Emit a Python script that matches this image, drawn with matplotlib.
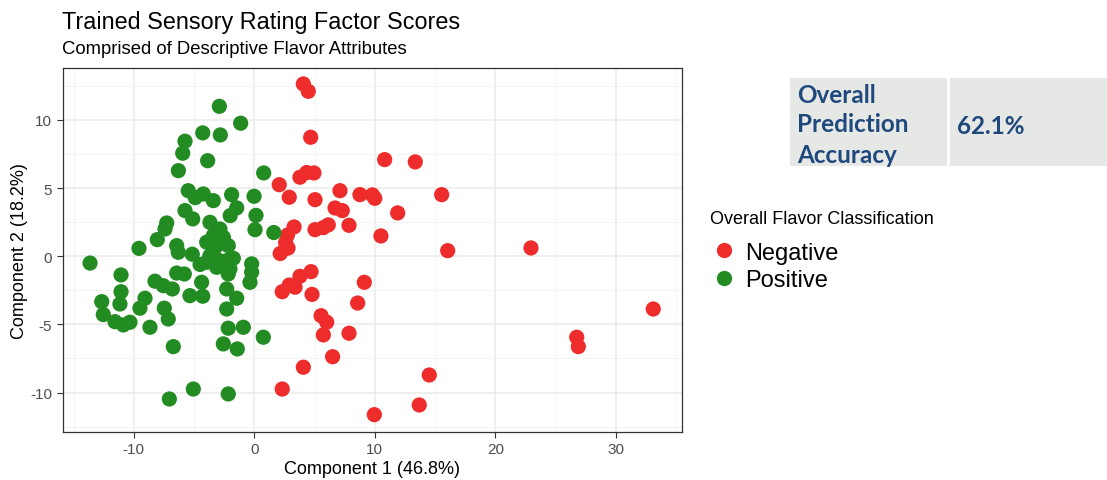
import matplotlib.pyplot as plt
from matplotlib.lines import Line2D

plt.rcParams["font.family"] = ["Liberation Sans", "DejaVu Sans"]
plt.rcParams["axes.unicode_minus"] = False

# factor scores
neg_x = [4.07, 4.48, 4.68, 10.82, 13.36, 15.55, 16.05, 22.96, 11.90, 10.51,
         9.80, 10.0, 8.77, 7.11, 7.86, 6.70, 7.30, 5.04, 4.95, 4.35,
         3.79, 2.07, 2.90, 5.04, 5.73, 6.14, 3.30, 2.75, 2.60, 2.80,
         2.15, 4.71, 3.79, 2.90, 3.38, 2.32, 4.79, 9.13, 8.58, 5.54,
         6.01, 5.73, 7.86, 6.50, 4.07, 2.32, 9.96, 13.69, 14.52, 26.76,
         26.89, 33.11]
neg_y = [12.64, 12.10, 8.73, 7.09, 6.92, 4.52, 0.41, 0.61, 3.18, 1.49,
         4.50, 4.25, 4.52, 4.81, 2.27, 3.54, 3.35, 4.15, 6.11, 6.14,
         5.80, 5.25, 4.33, 1.95, 2.10, 2.30, 2.15, 1.55, 1.00, 0.60,
         0.20, -1.13, -1.47, -2.11, -2.27, -2.60, -2.80, -1.91, -3.43, -4.36,
         -4.84, -5.77, -5.65, -7.37, -8.14, -9.74, -11.62, -10.91, -8.71, -5.94,
         -6.63, -3.87]

pos_x = [-2.90, -1.13, -4.28, -2.82, -5.75, -5.94, -3.87, -6.30, 0.78, -5.48,
         -4.23, -4.90, -3.40, -1.88, -0.02, -5.75, -5.11, -1.46, -2.00, 0.14,
         -7.27, -7.41, 0.06, 1.62, -8.05, -9.57, -6.44, -6.31, -5.15, -13.63,
         -11.06, -6.44, -5.81, -8.24, -7.55, -6.80, -4.37, -2.29, -1.46, -5.34,
         -4.28, -11.06, -11.15, -12.66, -12.53, -9.07, -9.49, -11.56, -10.87, -10.32,
         -7.47, -7.14, -8.66, -2.29, -2.16, -0.91, 0.75, -2.57, -1.41, -6.72,
         -5.06, -2.16, -7.05, -0.22, -0.22, -0.36, -4.50, -3.95, -3.12, -2.29,
         -1.74, -2.16, -3.68, -2.85, -3.40, -2.57, -3.95, -3.12, -2.16, -3.68,
         -3.12, -2.02]
pos_y = [11.00, 9.76, 9.05, 8.90, 8.44, 7.56, 7.01, 6.28, 6.11, 4.81,
         4.57, 4.30, 4.08, 4.52, 4.40, 3.35, 2.74, 3.55, 2.98, 3.00,
         2.44, 2.00, 1.95, 1.74, 1.22, 0.58, 0.78, 0.29, 0.15, -0.50,
         -1.37, -1.23, -1.30, -1.83, -2.16, -2.40, -1.91, -2.40, -3.08, -2.89,
         -2.93, -2.60, -3.50, -3.33, -4.28, -3.08, -3.81, -4.80, -5.04, -4.84,
         -3.81, -4.60, -5.21, -3.87, -5.28, -5.21, -5.94, -6.43, -6.80, -6.63,
         -9.74, -10.10, -10.47, -0.56, -1.17, -1.91, -0.60, -0.44, -0.20, -0.32,
         -0.15, -1.30, 2.49, 2.00, 1.51, 1.39, 1.03, 0.78, 0.78, 0.04,
         -0.81, -0.93]

classes = ["Negative", "Positive"]
class_colors = ["#EE2C2C", "#228B22"]
x_ticks = [-10, 0, 10, 20, 30]
y_ticks = [-10, -5, 0, 5, 10]
accuracy = "62.1%"

W, H = 1107, 481
fig = plt.figure(figsize=(W / 100, H / 100), dpi=100)
ax = fig.add_axes([62.7 / W, 1 - 432.7 / H, (681.7 - 62.7) / W, (432.7 - 69) / H])

ax.scatter(neg_x, neg_y, s=120, color=class_colors[0], edgecolors="none", zorder=3)
ax.scatter(pos_x, pos_y, s=120, color=class_colors[1], edgecolors="none", zorder=3)

ax.set_xlim(-15.9, 35.47)
ax.set_ylim(-12.87, 13.81)
ax.set_xticks(x_ticks)
ax.set_yticks(y_ticks)
ax.set_xticks([-15, -5, 5, 15, 25, 35], minor=True)
ax.set_yticks([-12.5, -7.5, -2.5, 2.5, 7.5, 12.5], minor=True)
ax.grid(True, which="major", color="#EBEBEB", lw=1.1, zorder=0)
ax.grid(True, which="minor", color="#F2F2F2", lw=0.6, zorder=0)
ax.tick_params(which="minor", length=0)
ax.tick_params(which="major", length=4, width=0.8, color="#333333",
               labelsize=11, labelcolor="#4D4D4D")
for sp in ax.spines.values():
    sp.set_color("#333333")
    sp.set_linewidth(0.9)
ax.set_axisbelow(True)

ax.set_xlabel("Component 1 (46.8%)", fontsize=13, labelpad=3)
ax.set_ylabel("Component 2 (18.2%)", fontsize=13, labelpad=2)

fig.text(62 / W, 1 - 22 / H, "Trained Sensory Rating Factor Scores", fontsize=16.8,
         ha="left", va="center")
fig.text(62 / W, 1 - 50 / H, "Comprised of Descriptive Flavor Attributes", fontsize=13.3,
         ha="left", va="center")

# legend
fig.text(710 / W, 1 - 220 / H, "Overall Flavor Classification", fontsize=13,
         ha="left", va="center")
handles = [Line2D([], [], ls="none", marker="o", ms=11, mec="none", color=c) for c in class_colors]
leg = fig.legend(handles, classes, loc="upper left", bbox_to_anchor=(693 / W, 1 - 226 / H),
                 fontsize=17, frameon=False, handletextpad=0.3, labelspacing=0.25,
                 handlelength=1.2, borderpad=0.2)

# accuracy table
tab = fig.add_axes([790 / W, 1 - 166.7 / H, (W - 790) / W, (166.7 - 79.3) / H])
tab.set_facecolor("#E6E8E6")
tab.set_xlim(790, W)
tab.set_ylim(166.7, 79.3)
tab.set_xticks([])
tab.set_yticks([])
for sp in tab.spines.values():
    sp.set_visible(False)
tab.axvline(948.3, color="white", lw=2)
for label, yy in zip(["Overall", "Prediction", "Accuracy"], [95, 124, 155]):
    tab.text(797, yy, label, fontsize=17.5, fontweight="bold", color="#1F497D",
             family="Lato", ha="left", va="center")
tab.text(957, 126, accuracy, fontsize=17.5, fontweight="bold", color="#1F497D",
         family="Lato", ha="left", va="center")

fig.savefig("out.png", dpi=100)
